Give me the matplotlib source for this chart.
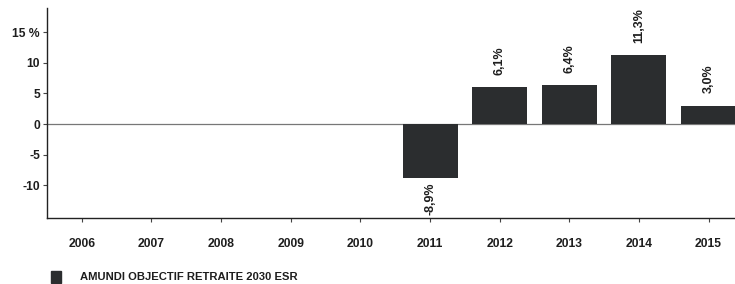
import matplotlib
matplotlib.use("Agg")
import matplotlib.pyplot as plt
from matplotlib.patches import Rectangle

years = ["2006", "2007", "2008", "2009", "2010", "2011", "2012", "2013", "2014", "2015"]
values = [None, None, None, None, None, -8.9, 6.1, 6.4, 11.3, 3.0]
labels = ["", "", "", "", "", "-8,9%", "6,1%", "6,4%", "11,3%", "3,0%"]
yticks = [-10, -5, 0, 5, 10, 15]
ytick_labels = ["-10", "-5", "0", "5", "10", "15 %"]
series_name = "AMUNDI OBJECTIF RETRAITE 2030 ESR"

plt.rcParams['font.family'] = ['Liberation Sans', 'DejaVu Sans']

fig = plt.figure(figsize=(7.35, 2.84), dpi=100)
ax = fig.add_axes([0.064, 0.232, 0.936, 0.74])

bar_color = "#2b2d2f"
txt_color = "#1e1e1e"
xs = list(range(len(years)))
for x, v, lab in zip(xs, values, labels):
    if v is None:
        continue
    ax.bar(x, v, width=0.79, color=bar_color, zorder=2)
    if v >= 0:
        ax.text(x, v + 2.0, lab, rotation=90, ha="center", va="bottom",
                fontsize=9, fontweight="bold", color=txt_color)
    else:
        ax.text(x, v - 0.6, lab, rotation=90, ha="center", va="top",
                fontsize=9, fontweight="bold", color=txt_color)

ax.axhline(0, color="#777777", linewidth=0.9, zorder=1)
ax.set_xlim(-0.5, 9.38)
ax.set_ylim(-15.4, 19.0)
ax.set_xticks(xs)
ax.set_xticklabels(years, fontsize=8.7, fontweight="bold", color=txt_color)
ax.set_yticks(yticks)
ax.set_yticklabels(ytick_labels, fontsize=8.7, fontweight="bold", color=txt_color)
ax.tick_params(axis="x", length=3, pad=11, color="#444444")
ax.tick_params(axis="y", length=3, pad=2, color="#444444")
for s in ["top", "right"]:
    ax.spines[s].set_visible(False)
for s in ["left", "bottom"]:
    ax.spines[s].set_color("#222222")
    ax.spines[s].set_linewidth(1.0)

# legend
fig.patches.append(Rectangle((51 / 735, 1 - 283 / 284), 10 / 735, 12 / 284,
                             transform=fig.transFigure, color=bar_color))
fig.text(80 / 735, 1 - 277 / 284, series_name, fontsize=8.1, fontweight="bold",
         color=txt_color, va="center", ha="left")

fig.savefig("out.png", dpi=100)
